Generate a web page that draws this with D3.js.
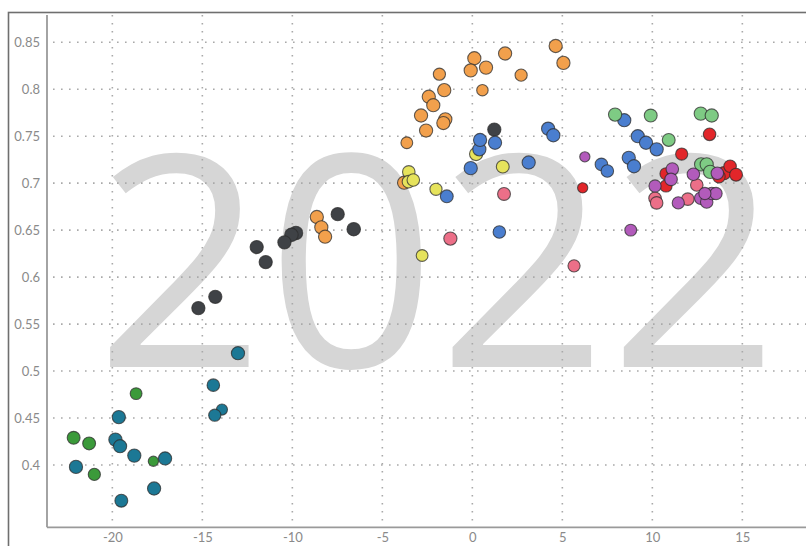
<!DOCTYPE html>
<html>
<head>
<meta charset="utf-8">
<script src="https://cdn.jsdelivr.net/npm/d3@7"></script>
<style>
  html, body { margin: 0; padding: 0; background: #fff; }
  svg { display: block; }
</style>
</head>
<body>
<svg id="chart" width="806" height="546"></svg>
<script>
// Axis ticks
const xTicks = [-20, -15, -10, -5, 0, 5, 10, 15];
const xTickLabels = ["-20", "-15", "-10", "-5", "0", "5", "10", "15"];
const yTicks = [0.4, 0.45, 0.5, 0.55, 0.6, 0.65, 0.7, 0.75, 0.8, 0.85];
const yTickLabels = ["0.4", "0.45", "0.5", "0.55", "0.6", "0.65", "0.7", "0.75", "0.8", "0.85"];
const yearLabel = "2022";

// Points per group: [x, y, relative size]
const tealGroup = [
  [-13.02, 0.519, 1], [-14.39, 0.485, 0.9], [-13.91, 0.459, 0.7], [-14.31, 0.453, 0.85],
  [-19.64, 0.451, 1], [-19.83, 0.427, 1], [-19.57, 0.420, 1], [-18.78, 0.410, 1],
  [-17.07, 0.407, 1], [-22.02, 0.398, 1], [-17.68, 0.375, 1], [-19.50, 0.362, 0.95]
];
const greenGroup = [
  [-18.68, 0.476, 0.8], [-22.15, 0.429, 0.95], [-21.29, 0.423, 0.95],
  [-17.72, 0.404, 0.6], [-21.00, 0.390, 0.85]
];
const darkGroup = [
  [-7.48, 0.667, 1], [-6.59, 0.651, 1.05], [-9.80, 0.647, 1.05], [-10.05, 0.645, 1.05],
  [-10.44, 0.637, 1], [-11.98, 0.632, 1], [-11.48, 0.616, 1], [-14.28, 0.579, 1],
  [-15.22, 0.567, 1], [1.22, 0.757, 1]
];
const orangeGroup = [
  [-8.64, 0.664, 1], [-8.39, 0.653, 1], [-8.18, 0.643, 1],
  [4.63, 0.846, 1], [5.06, 0.828, 1], [1.82, 0.838, 1], [0.11, 0.833, 1],
  [0.76, 0.823, 1], [-0.09, 0.820, 1], [2.71, 0.815, 0.85], [-1.83, 0.816, 0.85],
  [0.56, 0.799, 0.75], [-1.56, 0.799, 1], [-2.42, 0.792, 1], [-2.17, 0.783, 1],
  [-2.85, 0.772, 1], [-1.50, 0.768, 1], [-1.61, 0.764, 1], [-2.57, 0.756, 1],
  [-3.64, 0.743, 0.8], [-3.79, 0.7005, 1]
];
const yellowGroup = [
  [-3.53, 0.712, 0.9], [-3.55, 0.7016, 0.9], [-3.28, 0.7034, 0.9], [-2.02, 0.6935, 0.85],
  [0.21, 0.731, 1], [1.69, 0.7176, 0.95], [-2.79, 0.623, 0.8]
];
const blueGroup = [
  [-1.42, 0.686, 0.95], [-0.09, 0.716, 1], [0.39, 0.736, 1], [0.43, 0.746, 1],
  [1.26, 0.743, 1], [3.13, 0.722, 1], [4.21, 0.758, 1], [4.50, 0.751, 1],
  [1.50, 0.648, 0.9], [8.44, 0.767, 1], [9.19, 0.750, 1], [9.65, 0.743, 1],
  [10.24, 0.736, 1], [8.69, 0.727, 1], [8.98, 0.718, 1], [7.17, 0.720, 0.9],
  [7.50, 0.713, 0.9]
];
const pinkGroup = [
  [1.76, 0.6885, 0.95], [-1.22, 0.641, 1], [5.65, 0.612, 0.85], [12.47, 0.698, 0.9],
  [10.15, 0.684, 0.9], [10.24, 0.679, 0.9], [11.97, 0.683, 0.9]
];
const redGroup = [
  [11.63, 0.731, 0.85], [10.76, 0.710, 0.85], [10.76, 0.697, 0.85], [13.98, 0.7106, 1],
  [14.32, 0.718, 0.9], [14.65, 0.709, 0.95], [13.70, 0.707, 0.9], [13.18, 0.752, 0.9],
  [6.13, 0.695, 0.6]
];
const purpleGroup = [
  [6.25, 0.728, 0.6], [8.80, 0.650, 0.8], [11.11, 0.715, 0.9], [11.04, 0.704, 0.9],
  [10.15, 0.697, 0.85], [12.28, 0.7095, 0.9], [13.61, 0.7106, 0.9], [11.44, 0.679, 0.85],
  [12.69, 0.684, 0.9], [13.02, 0.680, 0.9], [13.30, 0.689, 0.9], [13.54, 0.689, 0.85],
  [12.92, 0.689, 0.85]
];
const lightGreenGroup = [
  [7.93, 0.773, 1], [9.91, 0.772, 0.95], [12.69, 0.774, 1], [13.30, 0.772, 1],
  [10.91, 0.746, 0.95], [12.71, 0.720, 1], [13.02, 0.720, 1], [13.21, 0.712, 1]
];

const groupData = [tealGroup, greenGroup, darkGroup, orangeGroup, yellowGroup,
                   blueGroup, pinkGroup, lightGreenGroup, redGroup, purpleGroup];
const groupColors = ["#1c7895", "#3b9a3a", "#3f4246", "#f2a04c", "#e6e35c",
                     "#4a7ecf", "#ec6f88", "#7ecb84", "#e2262a", "#b25bbb"];

const width = 806, height = 546;
const plot = { left: 47, right: 806.6, top: 15, bottom: 527.3 };

const svg = d3.select("#chart");

const x = d3.scaleLinear().domain([-23.63, 18.57]).range([plot.left, plot.right]);
const y = d3.scaleLinear().domain([0.3337, 0.879]).range([plot.bottom, plot.top]);
const r = d3.scaleSqrt().domain([0, 1]).range([0, 6.6]);

// Outer frame
svg.append("rect")
  .attr("x", 8.5).attr("y", 12.5)
  .attr("width", 840).attr("height", 560)
  .attr("fill", "#fff")
  .attr("stroke", "#6f6f6f")
  .attr("stroke-width", 1.6);

// Large year watermark
svg.append("text")
  .attr("x", 438)
  .attr("y", 367)
  .attr("text-anchor", "middle")
  .attr("font-family", "'Open Sans', sans-serif")
  .attr("font-size", 296)
  .attr("letter-spacing", 2)
  .attr("fill", "#d6d6d6")
  .text(yearLabel);

// Dotted grid
const grid = svg.append("g").attr("stroke", "#a9a9a9").attr("stroke-width", 1.6)
  .attr("stroke-dasharray", "1.6,6.4").attr("fill", "none");
grid.selectAll("line.v").data(xTicks).join("line")
  .attr("class", "v")
  .attr("x1", d => x(d)).attr("x2", d => x(d))
  .attr("y1", plot.top).attr("y2", plot.bottom - 4);
grid.selectAll("line.h").data(yTicks).join("line")
  .attr("class", "h")
  .attr("y1", d => y(d)).attr("y2", d => y(d))
  .attr("x1", plot.left + 6).attr("x2", width);

// Axes
const xAxis = d3.axisBottom(x).tickValues(xTicks)
  .tickFormat((d, i) => xTickLabels[i]).tickSize(0).tickPadding(5);
const yAxis = d3.axisLeft(y).tickValues(yTicks)
  .tickFormat((d, i) => yTickLabels[i]).tickSize(0).tickPadding(7);

const gx = svg.append("g").attr("transform", `translate(0,${plot.bottom})`).call(xAxis);
const gy = svg.append("g").attr("transform", `translate(${plot.left},0)`).call(yAxis);

[gx, gy].forEach(g => {
  g.select(".domain").attr("stroke", "#9a9a9a").attr("stroke-width", 1.8);
  g.selectAll("text")
    .attr("fill", "#8a8a8a")
    .attr("font-family", "Lato, 'Open Sans', sans-serif")
    .attr("font-size", 13);
});
gx.select(".domain").attr("d", `M${plot.left},0H${width}`);
gy.select(".domain").attr("d", `M0,${plot.top}V${plot.bottom}`);

// Points
const marks = svg.append("g");
groupData.forEach((pts, gi) => {
  marks.append("g")
    .selectAll("circle")
    .data(pts)
    .join("circle")
    .attr("cx", d => x(d[0]))
    .attr("cy", d => y(d[1]))
    .attr("r", d => r(d[2]))
    .attr("fill", groupColors[gi])
    .attr("stroke", "#2e2e2e")
    .attr("stroke-opacity", 0.75)
    .attr("stroke-width", 1.1);
});
</script>
</body>
</html>
